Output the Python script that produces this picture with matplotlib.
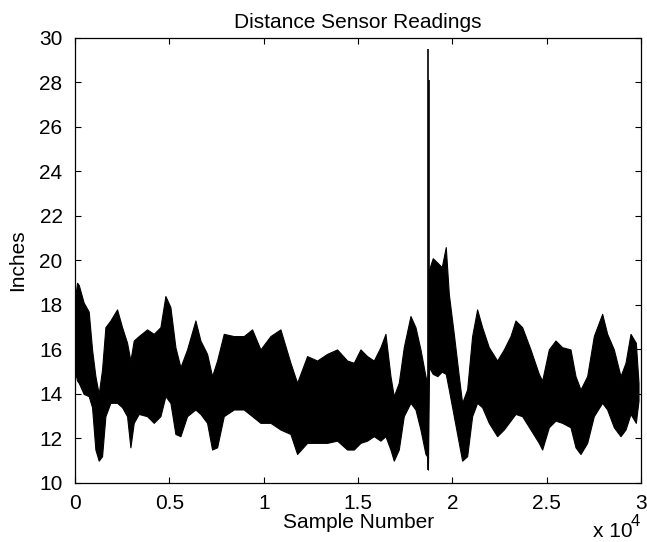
import matplotlib.pyplot as plt

plt.rcParams['font.family'] = ['Liberation Sans', 'DejaVu Sans']

# envelope of the raw signal (sample number, max, min)
samples = [0, 106, 194, 459, 724, 901, 1078, 1254, 1431, 1608, 1873, 2226,
           2491, 2756, 2933, 3110, 3375, 3816, 4170, 4523, 4788, 5053, 5318,
           5583, 5936, 6378, 6643, 6996, 7261, 7527, 7880, 8410, 8940, 9382,
           9823, 10353, 10883, 11413, 11767, 12297, 12827, 13357, 13887,
           14417, 14770, 15124, 15477, 15830, 16184, 16449, 16714, 16890,
           17155, 17420, 17774, 18039, 18304, 18569, 18650, 18700, 18760,
           18956, 19200, 19433, 19645, 19806, 20071, 20336, 20512, 20777,
           21042, 21307, 21572, 21926, 22367, 22721, 23074, 23339, 23693,
           24134, 24576, 24753, 25106, 25459, 25813, 26254, 26519, 26784,
           27138, 27491, 27933, 28198, 28551, 28905, 29170, 29435, 29717,
           29859]
upper = [18.3, 19.0, 18.9, 18.1, 17.7, 16.0, 14.8, 14.0, 15.1, 17.0, 17.3,
         17.8, 17.0, 16.3, 15.5, 16.4, 16.6, 16.9, 16.7, 17.0, 18.4, 17.9,
         16.1, 15.2, 16.0, 17.3, 16.4, 15.8, 14.8, 15.5, 16.7, 16.6, 16.6,
         16.9, 16.0, 16.6, 16.9, 15.4, 14.5, 15.7, 15.5, 15.8, 16.0, 15.5,
         15.4, 16.0, 15.7, 15.5, 16.1, 16.7, 14.8, 13.9, 14.5, 16.1, 17.5,
         17.0, 16.0, 14.8, 14.5, 15.0, 19.6, 20.1, 19.9, 19.7, 20.6, 18.5,
         16.7, 14.8, 13.6, 14.2, 16.6, 17.8, 17.0, 16.1, 15.5, 16.0, 16.6,
         17.3, 17.0, 16.0, 14.9, 14.6, 16.0, 16.4, 16.1, 16.0, 14.8, 14.2,
         14.8, 16.6, 17.6, 16.7, 16.0, 14.8, 15.4, 16.7, 16.3, 14.5]
lower = [15.0, 14.6, 14.5, 14.0, 13.9, 13.4, 11.5, 11.0, 11.2, 13.0, 13.6,
         13.6, 13.4, 13.0, 11.6, 12.7, 13.1, 13.0, 12.7, 13.0, 13.9, 13.6,
         12.2, 12.1, 13.0, 13.3, 13.1, 12.7, 11.5, 11.6, 13.0, 13.3, 13.3,
         13.0, 12.7, 12.7, 12.4, 12.2, 11.3, 11.8, 11.8, 11.8, 11.9, 11.5,
         11.5, 11.8, 11.9, 12.1, 11.9, 12.1, 11.5, 11.0, 11.5, 13.0, 13.6,
         13.3, 12.4, 11.3, 11.2, 10.6, 15.2, 14.9, 14.8, 15.0, 14.9, 14.2,
         13.0, 11.8, 11.0, 11.2, 13.0, 13.6, 13.4, 12.7, 12.1, 12.4, 12.8,
         13.1, 13.0, 12.4, 11.8, 11.5, 12.5, 12.8, 12.7, 12.5, 11.6, 11.3,
         11.8, 13.0, 13.6, 13.3, 12.5, 12.1, 12.4, 13.1, 12.7, 13.7]

# the big glitch just before 2e4
spike_x = [18693, 18746]
spike_top = [29.5, 28.1]
spike_bottom = [10.6, 15.0]

yticks = [10, 12, 14, 16, 18, 20, 22, 24, 26, 28, 30]
xticks = [0, 5000, 10000, 15000, 20000, 25000, 30000]
xticklabels = ['0', '0.5', '1', '1.5', '2', '2.5', '3']

fig = plt.figure(figsize=(6.47, 5.42), dpi=100)
ax = fig.add_axes([0.116, 0.109, 0.875, 0.821])

ax.fill_between(samples, lower, upper, color='black', lw=0.8)
ax.vlines(spike_x, spike_bottom, spike_top, color='black', lw=1.2)

ax.set_xlim(0, 30000)
ax.set_ylim(10, 30)
ax.set_xticks(xticks)
ax.set_xticklabels(xticklabels)
ax.set_yticks(yticks)
ax.tick_params(direction='in', length=4.3, width=0.8, top=True, right=True,
               labelsize=15)
ax.tick_params(axis='x', pad=8)
ax.tick_params(axis='y', pad=9)
for s in ax.spines.values():
    s.set_linewidth(0.9)

ax.set_title('Distance Sensor Readings', fontsize=15, pad=7)
ax.set_xlabel('Sample Number', fontsize=15, labelpad=0)
ax.set_ylabel('Inches', fontsize=15, labelpad=9)
# matlab style exponent under the right end of the x axis
fig.text(0.916, 0.009, 'x 10', fontsize=15)
fig.text(0.975, 0.029, '4', fontsize=12)

fig.savefig('out.png', dpi=100)
